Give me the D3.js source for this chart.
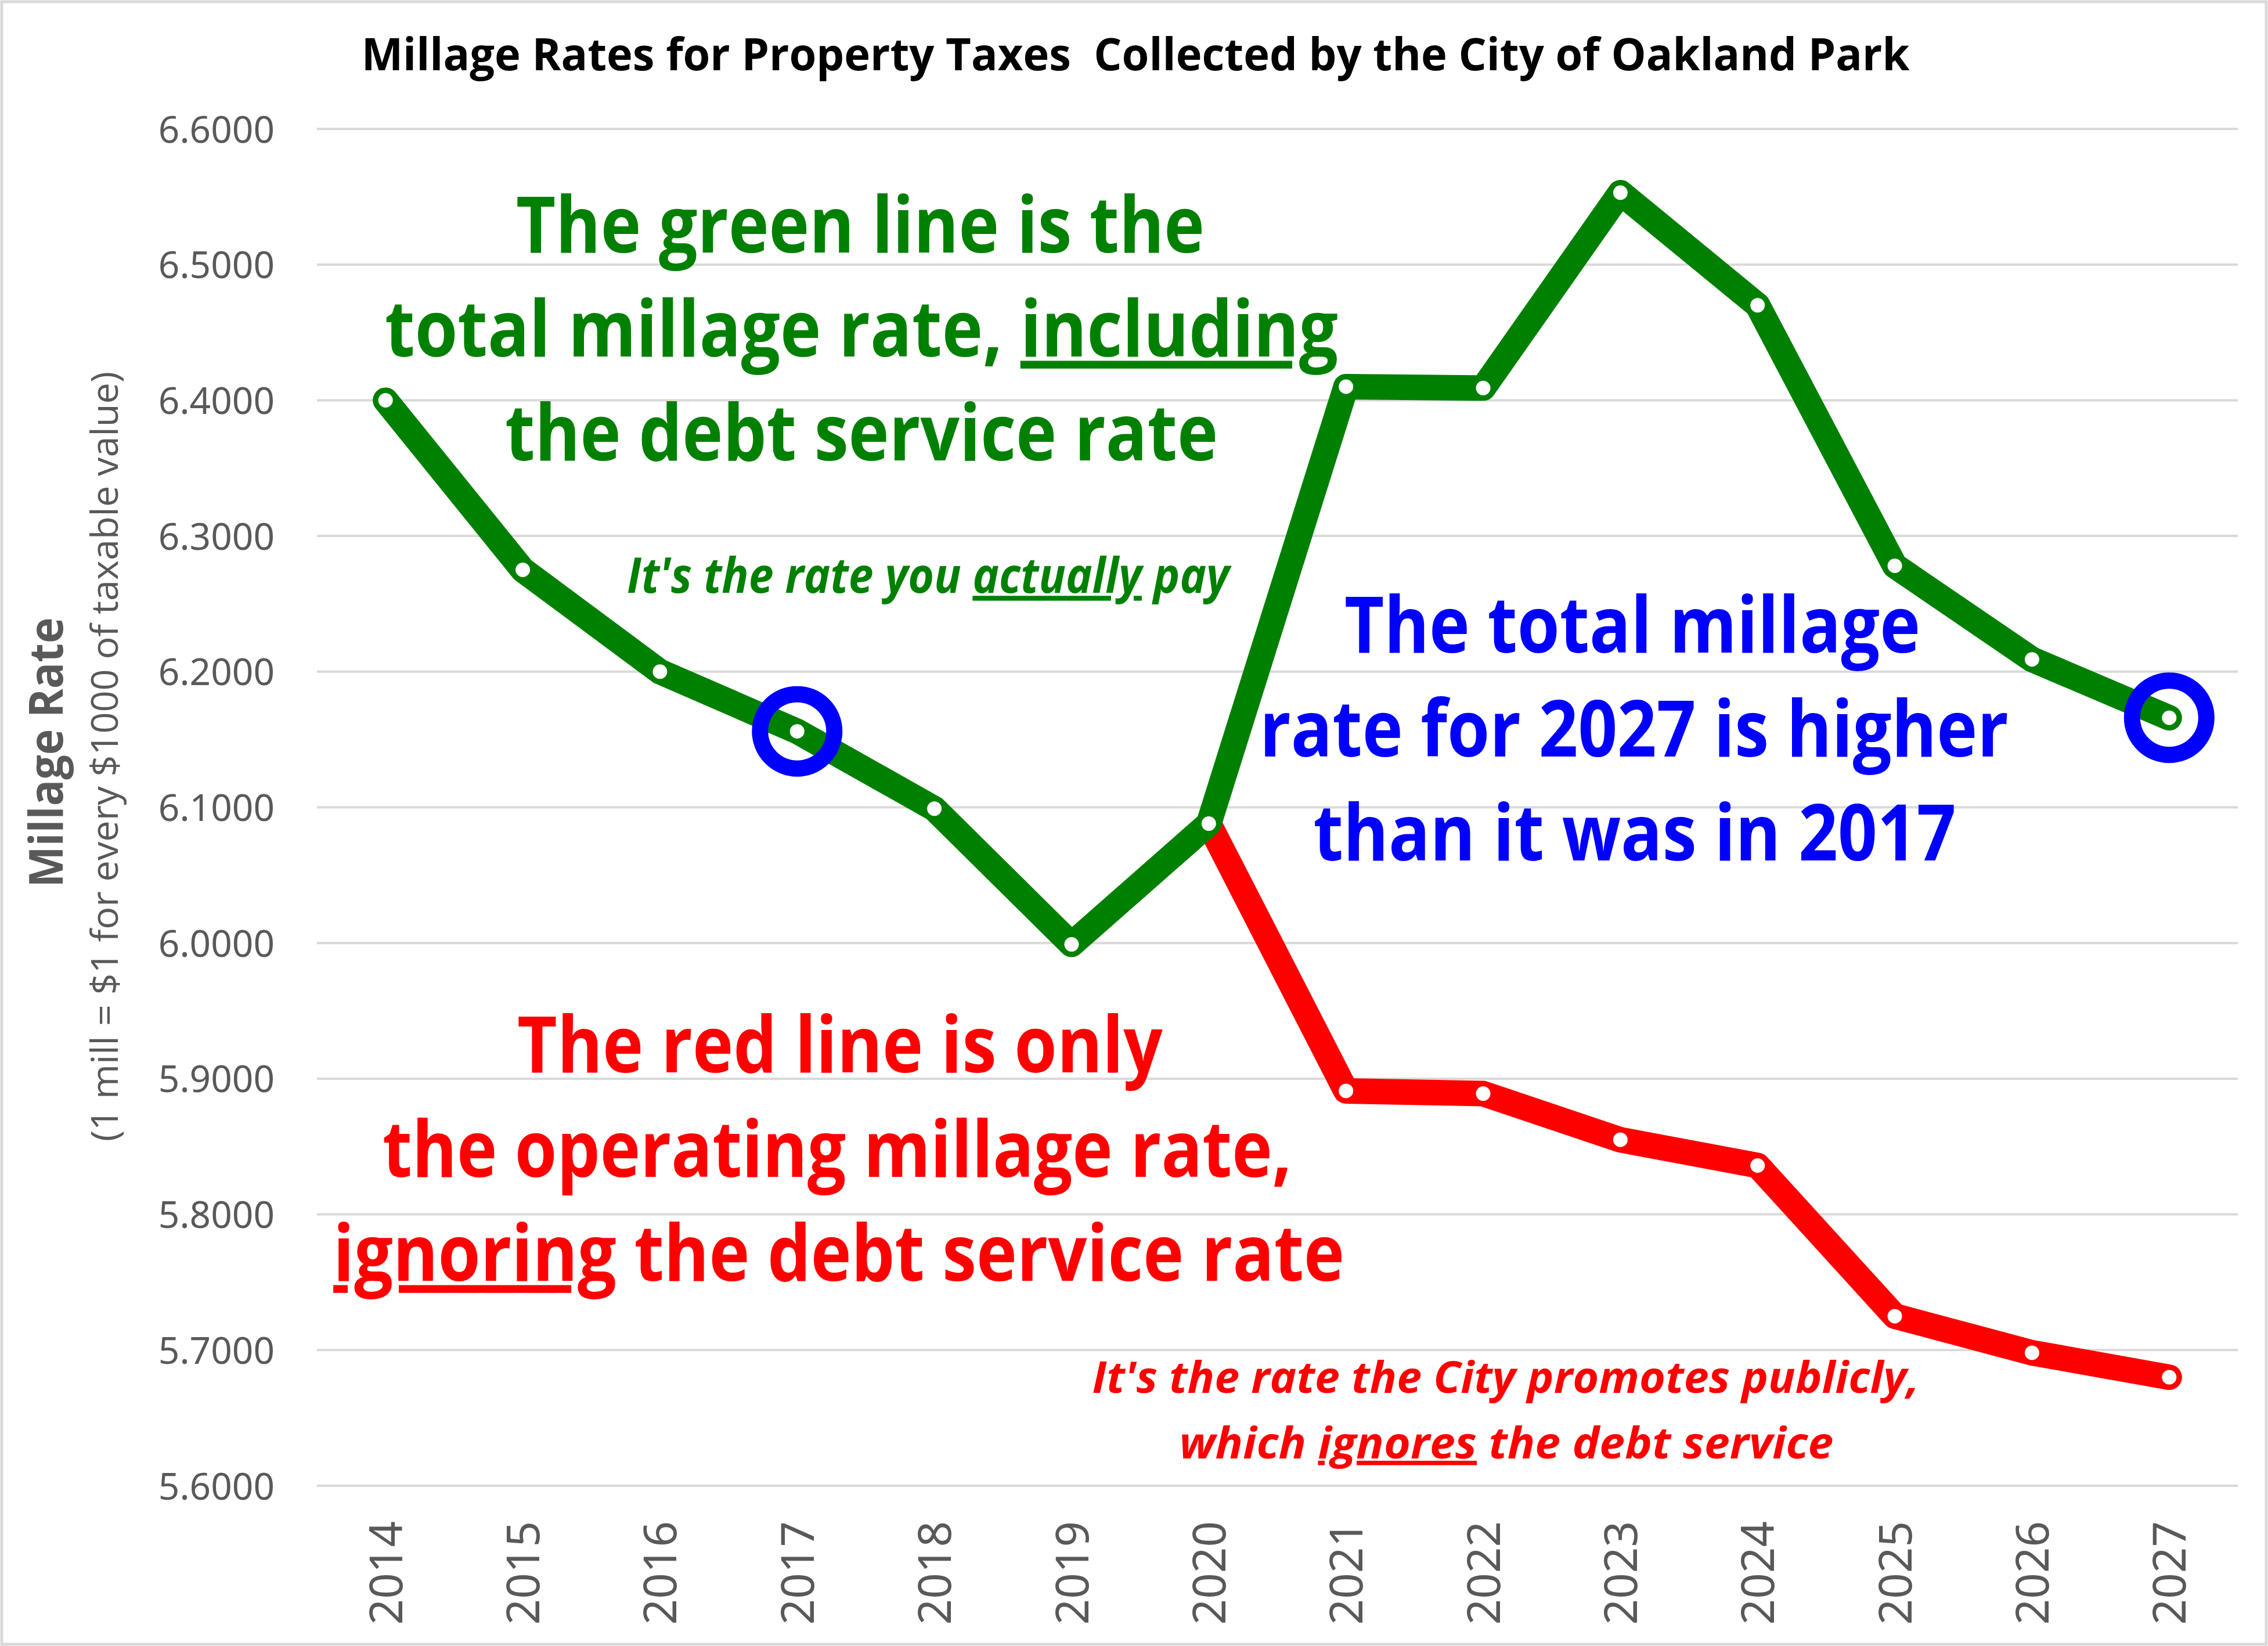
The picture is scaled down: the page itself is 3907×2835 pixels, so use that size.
<!DOCTYPE html>
<html>
<head>
<meta charset="utf-8">
<script src="https://cdn.jsdelivr.net/npm/d3@7"></script>
<style>
  html, body { margin: 0; padding: 0; background: #fff; }
  svg text { white-space: pre; }
</style>
</head>
<body>
<div id="chart"></div>
<script>
// data
const years = ["2014", "2015", "2016", "2017", "2018", "2019", "2020",
               "2021", "2022", "2023", "2024", "2025", "2026", "2027"];
const totalRate = [6.400, 6.275, 6.200, 6.156, 6.099, 5.999, 6.088,
                   6.410, 6.409, 6.553, 6.470, 6.278, 6.209, 6.166];
const operatingRate = [null, null, null, null, null, null, 6.088,
                       5.891, 5.889, 5.855, 5.836, 5.725, 5.698, 5.680];
const yTicks = [5.6, 5.7, 5.8, 5.9, 6.0, 6.1, 6.2, 6.3, 6.4, 6.5, 6.6];
const circledYears = ["2017", "2027"];

const title = "Millage Rates for Property Taxes  Collected by the City of Oakland Park";
const yTitle = "Millage Rate";
const ySubTitle = "(1 mill = $1 for every $1000 of taxable value)";

// annotation text, [text, underlined]
const greenNote = [
  [["The green line is the", false]],
  [["total millage rate, ", false], ["including", true]],
  [["the debt service rate", false]]
];
const greenSmall = [[["It's the rate you ", false], ["actually", true], [" pay", false]]];
const blueNote = [
  [["The total millage", false]],
  [["rate for 2027 is higher", false]],
  [["than it was in 2017", false]]
];
const redNote = [
  [["The red line is only", false]],
  [["the operating millage rate,", false]],
  [["ignoring", true], [" the debt service rate", false]]
];
const redSmall = [
  [["It's the rate the City promotes publicly,", false]],
  [["which ", false], ["ignores", true], [" the debt service", false]]
];

const width = 3907;
const height = 2835;
const margin = { top: 222, left: 546, bottom: 276, right: 52 };

const svg = d3.select("#chart").append("svg")
    .attr("width", width)
    .attr("height", height);

svg.append("rect")
    .attr("x", 3).attr("y", 3)
    .attr("width", width - 6).attr("height", height - 6)
    .attr("fill", "#fff")
    .attr("stroke", "#D9D9D9")
    .attr("stroke-width", 5);

const x = d3.scalePoint()
    .domain(years)
    .range([margin.left, width - margin.right])
    .padding(0.5);

const y = d3.scaleLinear()
    .domain([5.6, 6.6])
    .range([height - margin.bottom, margin.top]);

// gridlines
svg.append("g").selectAll("line").data(yTicks).enter().append("line")
    .attr("x1", margin.left).attr("x2", width - margin.right)
    .attr("y1", d => y(d)).attr("y2", d => y(d))
    .attr("stroke", "#D9D9D9")
    .attr("stroke-width", 4);

// y axis labels
const yAxis = svg.append("g")
    .attr("transform", `translate(${margin.left - 73},0)`)
    .call(d3.axisLeft(y).tickValues(yTicks).tickFormat(d3.format(".4f")).tickSize(0).tickPadding(0));
yAxis.select(".domain").remove();
yAxis.selectAll("text")
    .attr("dy", "0.36em")
    .attr("fill", "#595959")
    .style("font-family", "'Noto Sans', 'Open Sans', sans-serif")
    .style("font-size", "64px");

// x axis labels (rotated)
const xAxis = svg.append("g")
    .attr("transform", `translate(0,${height - margin.bottom + 61})`)
    .call(d3.axisBottom(x).tickSize(0).tickPadding(0));
xAxis.select(".domain").remove();
xAxis.selectAll("text")
    .attr("transform", "rotate(-90)")
    .attr("text-anchor", "end")
    .attr("x", 0)
    .attr("y", 0)
    .attr("dy", "0.36em")
    .attr("fill", "#595959")
    .style("font-family", "'Noto Sans', 'Open Sans', sans-serif")
    .style("font-size", "78px");

// series
const line = d3.line()
    .defined(d => d.v != null)
    .x(d => x(d.year))
    .y(d => y(d.v));

const series = [
  { name: "operating", values: operatingRate, color: "#FF0000" },
  { name: "total", values: totalRate, color: "#008000" }
];

series.forEach(s => {
  const pts = years.map((yr, i) => ({ year: yr, v: s.values[i] }));
  svg.append("path")
      .datum(pts)
      .attr("d", line)
      .attr("fill", "none")
      .attr("stroke", s.color)
      .attr("stroke-width", 44)
      .attr("stroke-linejoin", "round")
      .attr("stroke-linecap", "round");
  svg.append("g").selectAll("circle")
      .data(pts.filter(d => d.v != null))
      .enter().append("circle")
      .attr("cx", d => x(d.year))
      .attr("cy", d => y(d.v))
      .attr("r", 15)
      .attr("fill", "#fff")
      .attr("stroke", s.color)
      .attr("stroke-width", 5);
});

// blue highlight rings
svg.append("g").selectAll("circle")
    .data(circledYears)
    .enter().append("circle")
    .attr("cx", d => x(d))
    .attr("cy", d => y(totalRate[years.indexOf(d)]))
    .attr("r", 64)
    .attr("fill", "none")
    .attr("stroke", "#0000FF")
    .attr("stroke-width", 28);

// text helper: squeeze each line horizontally to the width seen in the picture
function note(lines, pos, opts) {
  lines.forEach((segs, i) => {
    const p = pos[i];
    const t = svg.append("text")
        .attr("text-anchor", "middle")
        .attr("fill", opts.color)
        .style("font-family", opts.family)
        .style("font-size", opts.size + "px")
        .style("font-weight", opts.weight || "bold")
        .style("font-style", opts.italic ? "italic" : "normal");
    segs.forEach(sg => {
      t.append("tspan")
          .text(sg[0])
          .style("text-decoration", sg[1] ? "underline" : "none");
    });
    const w = t.node().getComputedTextLength();
    const sx = w > 0 ? p[2] / w : 1;
    t.attr("transform", `translate(${p[0]},${p[1]}) scale(${sx},1)`);
  });
}

const bigFont = "'Liberation Sans Narrow', 'Open Sans', sans-serif";

note([[[title, false]]], [[1956, 121, 2667]],
     { color: "#000", family: "'Open Sans', sans-serif", size: 77 });

note(greenNote, [[1482, 435, 1186], [1484, 614, 1642], [1484, 793, 1228]],
     { color: "#008000", family: bigFont, size: 134 });
note(greenSmall, [[1599, 1021, 1038]],
     { color: "#008000", family: bigFont, size: 84, italic: true });
note(blueNote, [[2812, 1124, 992], [2815, 1303, 1290], [2816, 1482, 1107]],
     { color: "#0000FF", family: bigFont, size: 134 });
note(redNote, [[1447, 1847, 1112], [1442, 2027, 1566], [1445, 2206, 1742]],
     { color: "#FF0000", family: bigFont, size: 134 });
note(redSmall, [[2594, 2399, 1425], [2595, 2512, 1127]],
     { color: "#FF0000", family: bigFont, size: 76, italic: true });

// y axis titles
svg.append("text")
    .attr("transform", "translate(108,1296) rotate(-90)")
    .attr("text-anchor", "middle")
    .attr("textLength", 465)
    .attr("lengthAdjust", "spacingAndGlyphs")
    .attr("fill", "#595959")
    .style("font-family", "'Open Sans', sans-serif")
    .style("font-weight", "bold")
    .style("font-size", "80px")
    .text(yTitle);

svg.append("text")
    .attr("transform", "translate(203,1303) rotate(-90)")
    .attr("text-anchor", "middle")
    .attr("textLength", 1326)
    .attr("lengthAdjust", "spacingAndGlyphs")
    .attr("fill", "#595959")
    .style("font-family", "'Open Sans', sans-serif")
    .style("font-size", "64px")
    .text(ySubTitle);
</script>
</body>
</html>
